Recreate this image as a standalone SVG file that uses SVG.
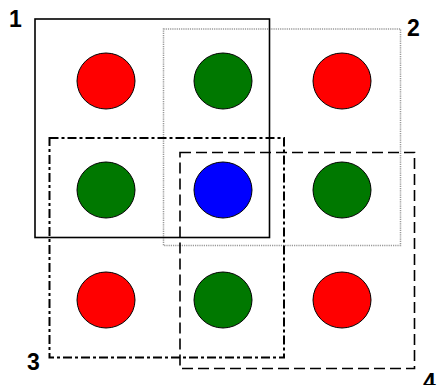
<svg xmlns="http://www.w3.org/2000/svg" width="438" height="385" viewBox="0 0 438 385">
<style>
.dot{stroke:#000;stroke-width:1}
.r{fill:#ff0000}.g{fill:#007800}.b{fill:#0000ff}
.lbl{font-family:"Liberation Sans",Arial,sans-serif;font-weight:bold;font-size:23px;fill:#000}
.box{fill:none}
</style>
<rect width="438" height="385" fill="#fff"/>
<g id="circles">
<g id="c11"><ellipse class="dot r" cx="106" cy="81" rx="29" ry="28"/></g>
<g id="c12"><ellipse class="dot g" cx="223" cy="81" rx="29" ry="28"/></g>
<g id="c13"><ellipse class="dot r" cx="342" cy="81" rx="29" ry="28"/></g>
<g id="c21"><ellipse class="dot g" cx="106" cy="190" rx="29" ry="28"/></g>
<g id="c22"><ellipse class="dot b" cx="223" cy="190" rx="29" ry="28"/></g>
<g id="c23"><ellipse class="dot g" cx="342" cy="190" rx="29" ry="28"/></g>
<g id="c31"><ellipse class="dot r" cx="106" cy="300" rx="29" ry="28"/></g>
<g id="c32"><ellipse class="dot g" cx="223" cy="300" rx="29" ry="28"/></g>
<g id="c33"><ellipse class="dot r" cx="342" cy="300" rx="29" ry="28"/></g>
</g>
<g id="box2"><rect class="box" x="163.5" y="29" width="237" height="216.5" stroke="#999" stroke-width="1.5" stroke-dasharray="1.2,1"/></g>
<g id="box1"><rect class="box" x="35" y="19" width="234.5" height="218.5" stroke="#000" stroke-width="1.6"/></g>
<g id="box3"><rect class="box" x="49.5" y="138" width="234.5" height="219.5" stroke="#000" stroke-width="2" stroke-dasharray="9,3,3,3"/></g>
<g id="box4"><rect class="box" x="180" y="152.5" width="234.5" height="216" stroke="#000" stroke-width="1.6" stroke-dasharray="11,5"/></g>
<g id="labels">
<text class="lbl" x="9" y="27">1</text>
<text class="lbl" x="407" y="36">2</text>
<text class="lbl" x="27" y="370">3</text>
<text class="lbl" x="423" y="390">4</text>
</g>
</svg>
